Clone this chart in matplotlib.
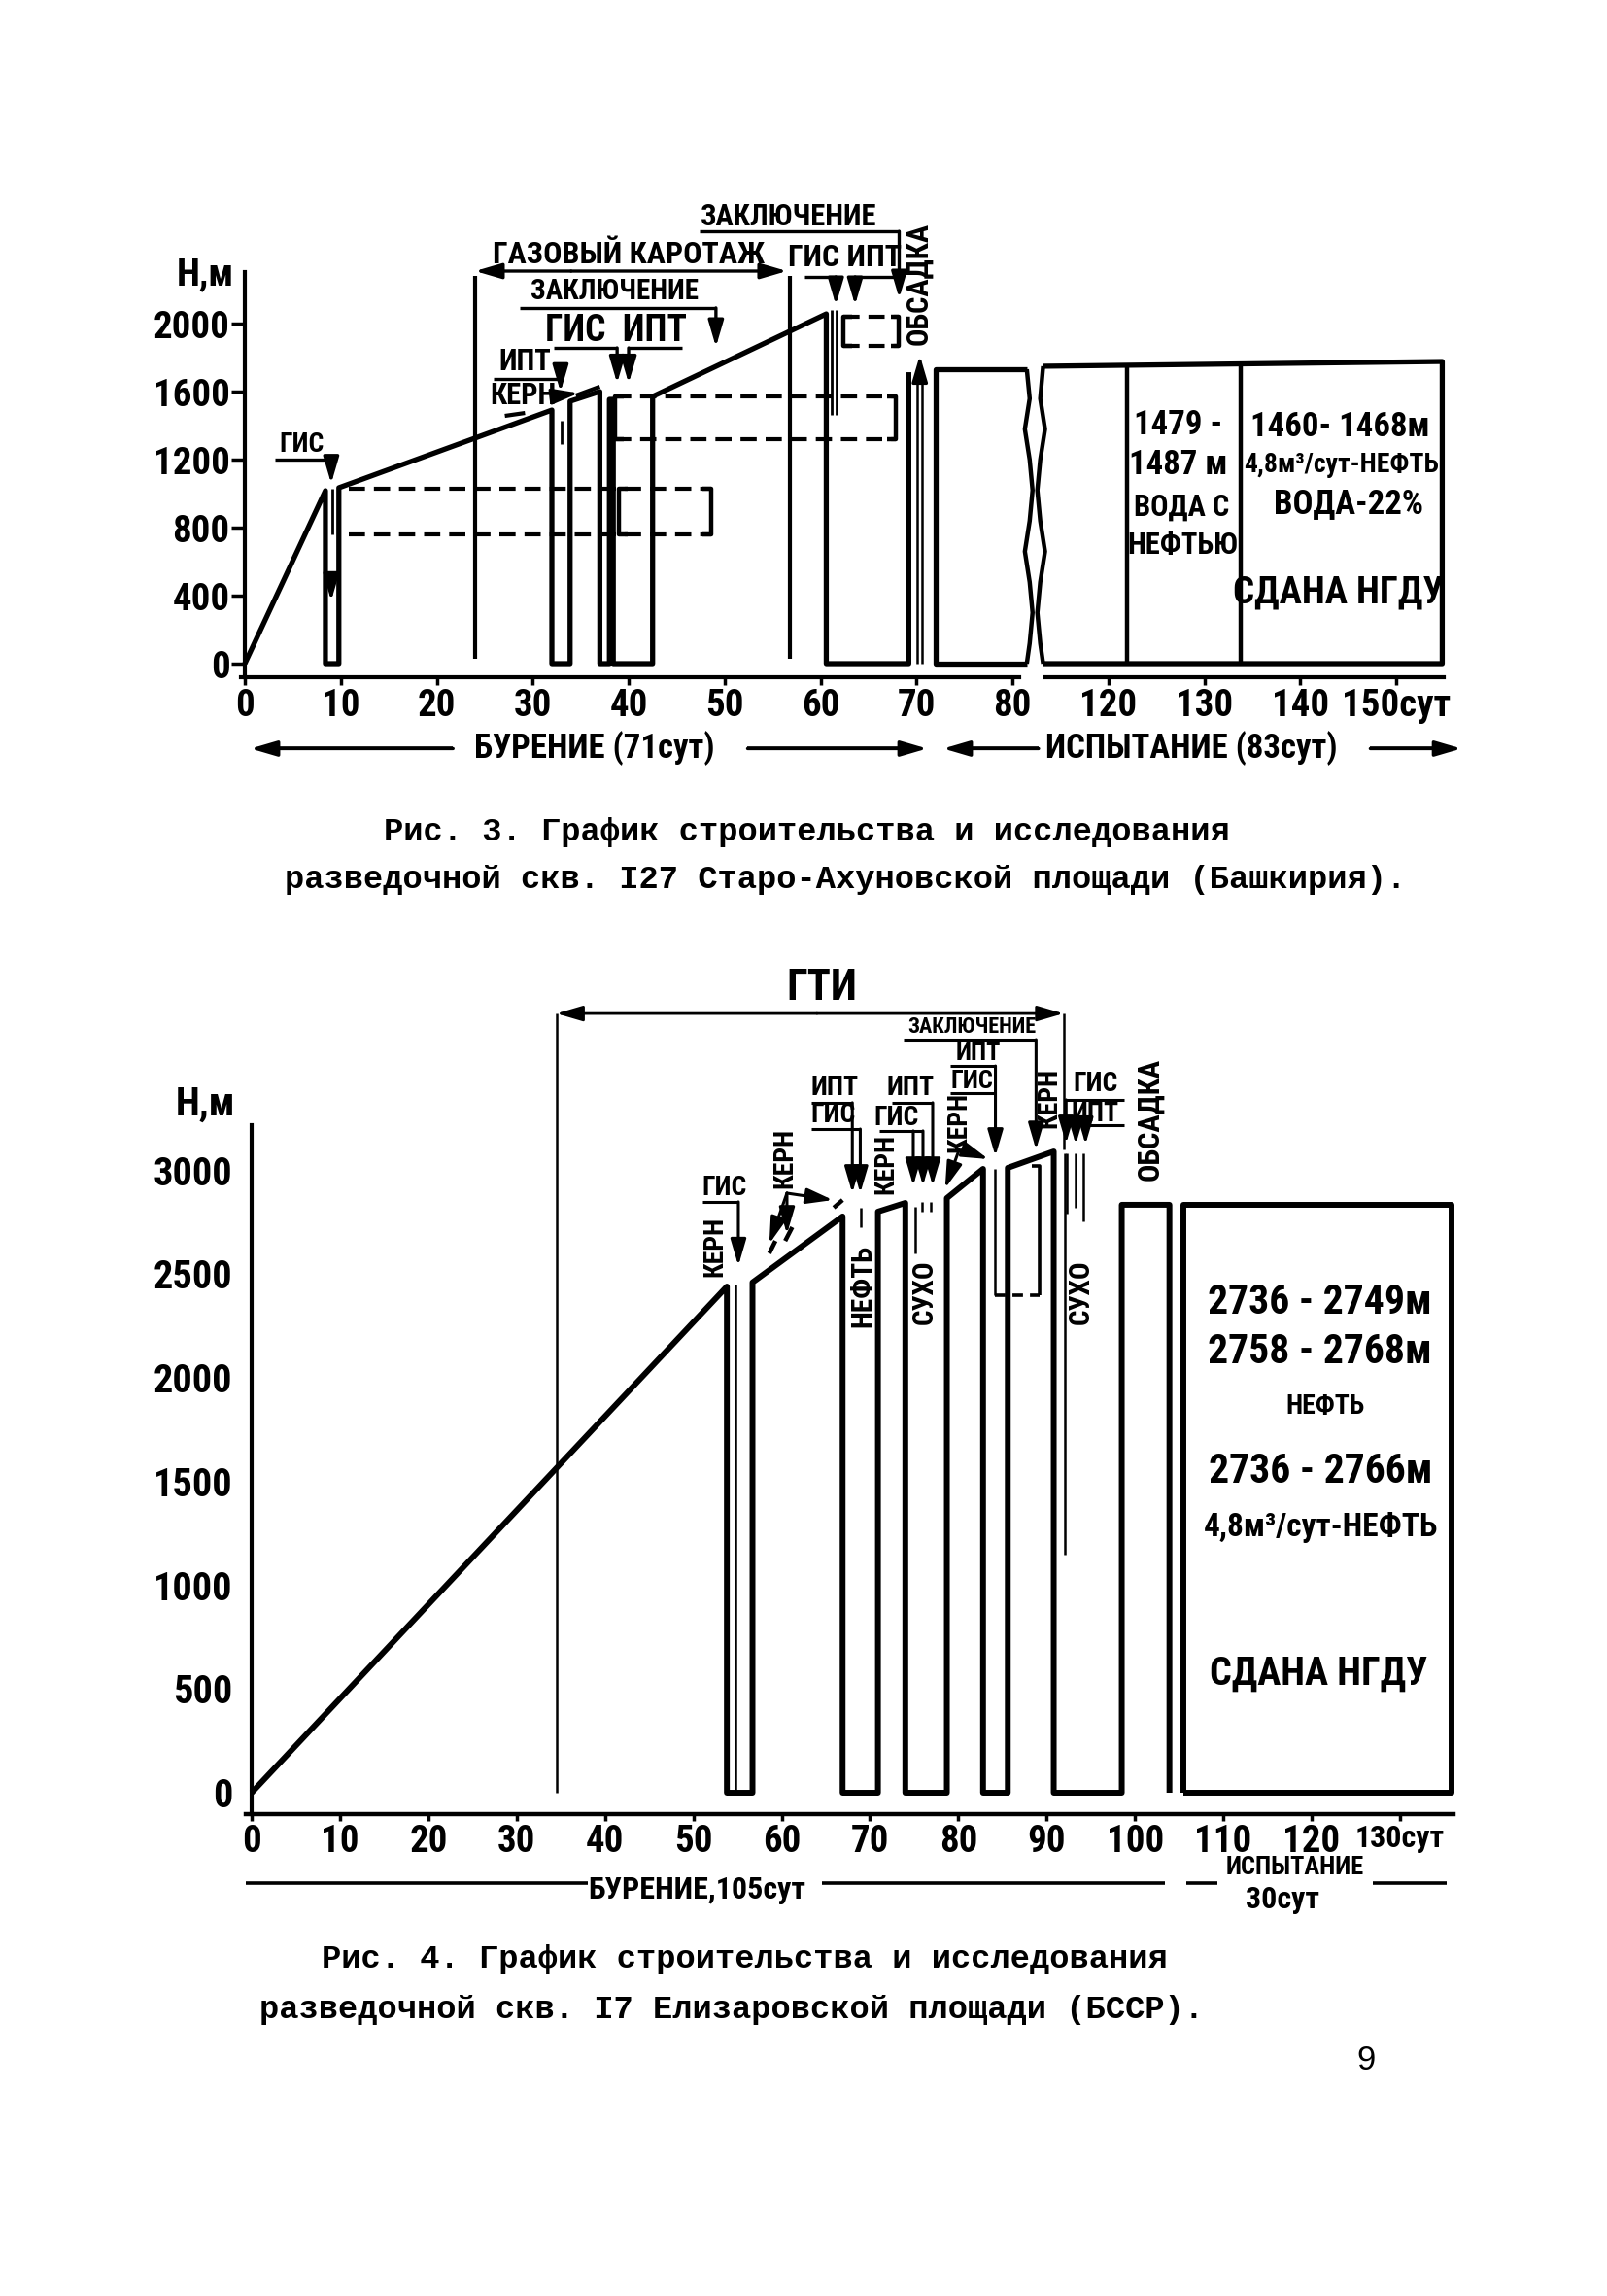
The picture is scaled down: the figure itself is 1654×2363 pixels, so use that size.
import os
import numpy as np
import matplotlib
matplotlib.use('Agg')
import matplotlib.pyplot as plt
from matplotlib import font_manager as fm
from matplotlib.font_manager import FontProperties

# ---------------- Рис. 3 ----------------
x3_ticks = [0, 10, 20, 30, 40, 50, 60, 70, 80, 120, 130, 140, 150]
x3_labels = ['0', '10', '20', '30', '40', '50', '60', '70', '80', '120', '130', '140', '150сут']
y3_ticks = [0, 400, 800, 1200, 1600, 2000]
y3_labels = ['0', '400', '800', '1200', '1600', '2000']

# бурение и спуско-подъёмы (сут, м)
well3_t = [0, 8.4, 8.4, 9.8, 9.8, 32.0, 32.0, 33.9, 33.9, 37.0, 37.0, 38.0, 38.0,
           38.4, 38.4, 42.5, 42.5, 60.6, 60.6, 69.2, 69.2]
well3_h = [0, 1018, 0, 0, 1035, 1492, 0, 0, 1544, 1601, 0, 0, 1555,
           1555, 0, 0, 1572, 2058, 0, 0, 1715]

casing3_t = [70.1, 70.6]
casing3_top = 1720

# испытание
testA3 = [72.0, 86.0, 1732]             # left, right(wavy), top
testB3 = [92.8, 154.8, 1750, 1778]      # left(wavy), right, top-left, top-right
testB3_div = [121.9, 133.8]
wave3_h = [0, 120, 300, 480, 660, 840, 1020, 1200, 1380, 1560, 1732]
wave3_dx = [0, 1.2, 2.4, 1.2, -0.8, 1.2, 2.4, 1.2, -0.8, 1.2, 0]

gas3_t = [24.0, 56.8]
gas3_level = 2310

# интервалы (пунктир) и скобки
dash3_hi = [1030, 1572, 2040]
dash3_lo = [760, 1321, 1870]
dash3_from = [10.8, 38.6, 62.4]
dash3_to = [48.6, 67.8, 68.2]
dash3_left = [39.0, 38.6, 62.4]

notes3 = [
    ('ГИС', 5.9, 1292, 20, 0),
    ('ИПТ', 29.2, 1778, 22, 0),
    ('КЕРН', 29.0, 1578, 22, 0),
    ('ЗАКЛЮЧЕНИЕ', 38.5, 2190, 21, 0),
    ('ГИС  ИПТ', 38.7, 1961, 27, 0),
    ('ГАЗОВЫЙ КАРОТАЖ', 40.0, 2407, 23, 0),
    ('ЗАКЛЮЧЕНИЕ', 56.7, 2630, 22, 0),
    ('ГИС ИПТ', 62.5, 2390, 23, 0),
    ('ОБСАДКА', 70.2, 2236, 22, 90),
    ('1479 -', 127.3, 1401, 25, 0),
    ('1487 м', 127.3, 1172, 25, 0),
    ('ВОДА С', 127.6, 921, 22, 0),
    ('НЕФТЬЮ', 127.8, 698, 22, 0),
    ('1460- 1468м', 144.2, 1395, 25, 0),
    ('4,8м³/сут-НЕФТЬ', 144.3, 1172, 20, 0),
    ('ВОДА-22%', 145.0, 943, 25, 0),
    ('СДАНА НГДУ', 144.0, 417, 28, 0),
]

arrows3_t = [[3.1, 9.0, 9.0], [25.9, 32.9, 32.9], [32.4, 34.8], [28.7, 49.1, 49.1],
             [32.2, 38.8, 38.8], [45.6, 40.0, 40.0], [47.4, 68.2, 68.2],
             [58.3, 61.6, 61.6], [67.9, 63.6, 63.6], [70.35, 70.35], [9.0, 9.0]]
arrows3_h = [[1201, 1201, 1060], [1675, 1675, 1600], [1575, 1592], [2093, 2093, 1864],
             [1858, 1858, 1650], [1858, 1858, 1650], [2544, 2544, 2150],
             [2276, 2276, 2110], [2276, 2276, 2110], [1700, 1815], [470, 370]]

thin3_t = [[9.1, 9.1], [61.2, 61.2], [61.7, 61.7], [33.0, 33.0]]
thin3_h = [[1030, 760], [2080, 1464], [2080, 1464], [1430, 1290]]
core3_t = [[27.1, 29.2], [34.5, 37.0]]
core3_h = [[1458, 1475], [1578, 1630]]

# нижняя строка
bur3 = [0.6, 21.7, 52.4, 71.1]
isp3 = [72.8, 90.9, 147.3, 156.8]

# ---------------- Рис. 4 ----------------
x4_ticks = list(range(0, 131, 10))
x4_labels = ['0', '10', '20', '30', '40', '50', '60', '70', '80', '90', '100', '110', '120', '130сут']
y4_ticks = [0, 500, 1000, 1500, 2000, 2500, 3000]
y4_labels = ['0', '500', '1000', '1500', '2000', '2500', '3000']

well4_t = [0, 53.8, 53.8, 56.7, 56.7, 66.9, 66.9, 70.9, 70.9, 74.0, 74.0, 78.7, 78.7,
           82.8, 82.8, 85.6, 85.6, 90.8, 90.8, 98.5, 98.5, 103.9, 103.9]
well4_h = [0, 2440, 0, 0, 2460, 2778, 0, 0, 2801, 2843, 0, 0, 2866,
           3007, 0, 0, 3012, 3091, 0, 0, 2834, 2834, 0]
test4 = [105.5, 135.8, 2834]

gti4 = [34.5, 91.9]
gti4_level = 3756

notes4 = [
    ('ГТИ', 64.5, 3878, 32, 0),
    ('ГИС', 53.5, 2918, 20, 0),
    ('КЕРН', 52.4, 2632, 20, 90),
    ('КЕРН', 60.4, 3059, 20, 90),
    ('ИПТ', 66.0, 3400, 20, 0),
    ('ГИС', 65.8, 3269, 20, 0),
    ('ИПТ', 74.6, 3400, 20, 0),
    ('ГИС', 73.0, 3255, 20, 0),
    ('КЕРН', 71.8, 3030, 20, 90),
    ('КЕРН', 80.1, 3232, 20, 90),
    ('ЗАКЛЮЧЕНИЕ', 81.5, 3691, 16, 0),
    ('ИПТ', 82.3, 3564, 19, 0),
    ('ГИС', 81.6, 3429, 19, 0),
    ('КЕРН', 90.3, 3349, 20, 90),
    ('ГИС', 95.5, 3419, 20, 0),
    ('ИПТ', 95.5, 3274, 20, 0),
    ('ОБСАДКА', 101.7, 3246, 22, 90),
    ('НЕФТЬ', 69.2, 2445, 21, 90),
    ('СУХО', 76.2, 2412, 21, 90),
    ('СУХО', 93.9, 2412, 21, 90),
    ('2736 - 2749м', 120.9, 2365, 30, 0),
    ('2758 - 2768м', 120.9, 2126, 30, 0),
    ('НЕФТЬ', 121.5, 1864, 20, 0),
    ('2736 - 2766м', 121.0, 1546, 30, 0),
    ('4,8м³/сут-НЕФТЬ', 121.0, 1279, 24, 0),
    ('СДАНА НГДУ', 120.8, 571, 29, 0),
]

arrows4_t = [[51.0, 55.1, 55.1], [60.6, 58.6], [60.6, 60.6], [60.6, 65.8],
             [63.4, 68.0, 68.0], [63.4, 68.9, 68.9],
             [72.5, 77.1, 77.1], [71.0, 76.0, 76.0], [74.9, 74.9],
             [80.1, 78.5], [80.6, 83.4], [73.8, 88.8, 88.8],
             [79.1, 84.2, 84.2], [98.8, 92.2, 92.2], [93.3, 93.3], [94.4, 94.4]]
arrows4_h = [[2848, 2848, 2540], [2890, 2646], [2890, 2693], [2890, 2857],
             [3326, 3326, 2890], [3199, 3199, 2890],
             [3326, 3326, 2927], [3190, 3190, 2927], [3190, 2927],
             [3100, 2913], [3100, 3054], [3630, 3630, 3100],
             [3503, 3503, 3068], [3340, 3340, 3129], [3218, 3125], [3218, 3125]]
under4_t = [[79.1, 84.2], [92.2, 98.8]]
under4_h = [[3372, 3372], [3218, 3218]]

thin4_t = [[54.8, 54.8], [92.1, 92.1], [69.0, 69.0], [75.1, 75.1], [84.1, 84.1],
           [92.3, 92.3], [93.3, 93.3], [94.1, 94.1], [75.9, 75.9], [76.9, 76.9]]
thin4_h = [[2450, 0], [3080, 1148], [2820, 2726], [2824, 2600], [3007, 2398],
           [3082, 2790], [3082, 2820], [3082, 2754], [2848, 2800], [2848, 2800]]
core4_t = [[58.6, 59.3], [60.4, 61.2], [65.9, 66.9]]
core4_h = [[2600, 2660], [2660, 2726], [2820, 2857]]
bracket4 = [84.1, 89.2, 3021, 2398]

row4_segs = [(-0.66, 38.1), (64.6, 103.4), (105.8, 109.3), (126.9, 135.3)]
row4_level = -436

# ---------------------------------------------------------------
# узкий жирный шрифт (как на чертеже)
def find_font(patterns):
    files = [f.fname for f in fm.fontManager.ttflist]
    for pat in patterns:
        for fn in files:
            if os.path.basename(fn).lower().startswith(pat):
                return fn
    return None

NARROW = find_font(['liberationsansnarrow-bold.', 'notosans-condensedbold',
                    'robotocondensed-bold', 'roboto_condensed-bold',
                    'opensans_condensed-bold', 'opensanscondensed-bold',
                    'dejavusanscondensed-bold'])


def nfp(size):
    if NARROW:
        return FontProperties(fname=NARROW, size=size)
    return FontProperties(family='DejaVu Sans', weight='bold', stretch='condensed', size=size)


W, H = 1654, 2363
fig = plt.figure(figsize=(W / 100, H / 100), dpi=100)
fig.patch.set_facecolor('white')

MONO = dict(family=['Liberation Mono', 'DejaVu Sans Mono'], weight='bold')


def line(ax, xs, ys, lw=3.8, ls='-'):
    ax.plot(xs, ys, color='k', lw=lw, ls=ls, solid_capstyle='butt',
            solid_joinstyle='round', dash_capstyle='butt', clip_on=False)


def head(ax, x0, y0, x1, y1, lw=2.4, style='-|>'):
    ax.annotate('', xy=(x1, y1), xytext=(x0, y0),
                arrowprops=dict(arrowstyle=style + ',head_length=0.75,head_width=0.22',
                                color='k', lw=lw, shrinkA=0, shrinkB=0, mutation_scale=22),
                annotation_clip=False)


def arrow(ax, xs, ys, lw=2.4):
    if len(xs) > 2:
        line(ax, xs[:-1], ys[:-1], lw=lw)
    head(ax, xs[-2], ys[-2], xs[-1], ys[-1], lw=lw)


def note(ax, txt, x, y, size, rot=0):
    ax.text(x, y, txt, fontproperties=nfp(size), ha='center', va='center', rotation=rot,
            rotation_mode='anchor', clip_on=False)


def style_ticks(ax, xsize, ysize):
    for t in ax.get_xticklabels():
        t.set_fontproperties(nfp(xsize))
    for t in ax.get_yticklabels():
        t.set_fontproperties(nfp(ysize))


def fwd(d):
    d = np.asarray(d, float)
    return np.where(d <= 80, d, np.where(d < 120, 80 + (d - 80) / 4, d - 30))


def inv(u):
    u = np.asarray(u, float)
    return np.where(u <= 80, u, np.where(u < 90, 80 + (u - 80) * 4, u + 30))


# ================= Рис. 3 =================
ax = fig.add_axes([248.05 / W, 1 - 697 / H, (1486.4 - 248.05) / W, (697 - 193.3) / H])
ax.set_xscale('function', functions=(fwd, inv))
ax.set_xlim(-0.4, 155)
ax.set_ylim(-80, 2800)
ax.patch.set_alpha(0)
for s in ['top', 'right', 'bottom']:
    ax.spines[s].set_visible(False)
ax.spines['left'].set_position(('data', 0))
ax.spines['left'].set_bounds(-80, 2304)
ax.spines['left'].set_linewidth(3)
ax.set_xticks(x3_ticks)
ax.set_xticklabels(x3_labels)
ax.set_yticks(y3_ticks)
ax.set_yticklabels(y3_labels)
ax.tick_params(axis='y', direction='out', length=10, width=2.5, pad=1)
ax.tick_params(axis='x', direction='out', length=6, width=2.5, pad=2)
style_ticks(ax, 28, 28)

# ось X с разрывом
tx = ax.get_xaxis_transform()
ax.plot([-0.4, 82.8], [0, 0], color='k', lw=3, transform=tx, clip_on=False)
ax.plot([93.6, 155], [0, 0], color='k', lw=3, transform=tx, clip_on=False)

line(ax, well3_t, well3_h)
for c in casing3_t:
    line(ax, [c, c], [0, casing3_top], lw=1.8)

# испытание: прямоугольники с волнистым разрывом
aL, aR, aT = testA3
line(ax, [aR + wave3_dx[0], aL, aL, aR], [0, 0, aT, aT])
line(ax, [aR + dx for dx in wave3_dx], wave3_h, lw=3.2)
bL, bR, bTL, bTR = testB3
line(ax, [bL, bR, bR, bL], [bTL, bTR, 0, 0])
line(ax, [bL - dx for dx in wave3_dx[:-1]] + [bL], wave3_h[:-1] + [bTL], lw=3.2)
for dv in testB3_div:
    line(ax, [dv, dv], [0, bTL + (bTR - bTL) * (dv - bL) / (bR - bL)], lw=3.2)

# газовый каротаж
for g in gas3_t:
    line(ax, [g, g], [gas3_level - 30, 30], lw=3)
head(ax, gas3_t[0] + 10, gas3_level, gas3_t[0], gas3_level, lw=2.4)
head(ax, gas3_t[0] + 10, gas3_level, gas3_t[1] - 0.3, gas3_level, lw=2.4)

# пунктирные интервалы
for hi, lo, a, b, l in zip(dash3_hi, dash3_lo, dash3_from, dash3_to, dash3_left):
    line(ax, [a, b], [hi, hi], lw=3, ls=(0, (4, 2.2)))
    line(ax, [a, b], [lo, lo], lw=3, ls=(0, (4, 2.2)))
    line(ax, [l + 0.9, l, l, l + 0.9], [hi, hi, lo, lo], lw=3.2)
    line(ax, [b - 0.9, b, b, b - 0.9], [hi, hi, lo, lo], lw=3.2)

for xs, ys in zip(thin3_t, thin3_h):
    line(ax, xs, ys, lw=2)
for xs, ys in zip(core3_t, core3_h):
    line(ax, xs, ys, lw=3)
for xs, ys in zip(arrows3_t, arrows3_h):
    arrow(ax, xs, ys)

for txt, x, y, s, r in notes3:
    note(ax, txt, x, y, s, r)
note(ax, 'Н,м', -4.1, 2287, 28)

# нижняя строка со стрелками
yb = -500
line(ax, [bur3[0] + 1, bur3[1]], [yb, yb], lw=2.6)
head(ax, bur3[1], yb, bur3[0], yb)
line(ax, [bur3[2], bur3[3] - 1], [yb, yb], lw=2.6)
head(ax, bur3[2], yb, bur3[3], yb)
line(ax, [isp3[0] + 1, isp3[1]], [yb, yb], lw=2.6)
head(ax, isp3[1], yb, isp3[0], yb)
line(ax, [isp3[2], isp3[3] - 1], [yb, yb], lw=2.6)
head(ax, isp3[2], yb, isp3[3], yb)
note(ax, 'БУРЕНИЕ (71сут)', 36.4, yb, 25)
note(ax, 'ИСПЫТАНИЕ (83сут)', 128.7, yb, 25)

# ================= Рис. 4 =================
bx = fig.add_axes([253.0 / W, 1 - 1867 / H, (1495.5 - 253.0) / W, (1867 - 991) / H])
bx.set_xlim(-0.66, 136)
bx.set_ylim(-103, 4000)
bx.patch.set_alpha(0)
for s in ['top', 'right']:
    bx.spines[s].set_visible(False)
bx.spines['left'].set_position(('data', 0))
bx.spines['left'].set_bounds(-103, 3218)
bx.spines['left'].set_linewidth(3)
bx.spines['bottom'].set_linewidth(3.2)
bx.set_xticks(x4_ticks)
bx.set_xticklabels(x4_labels)
bx.set_yticks(y4_ticks)
bx.set_yticklabels(y4_labels)
bx.tick_params(axis='y', length=0, pad=14)
bx.tick_params(axis='x', direction='out', length=5, width=2.5, pad=2)
style_ticks(bx, 28, 29)
bx.get_xticklabels()[-1].set_fontproperties(nfp(23))

line(bx, well4_t, well4_h, lw=4.3)
tL, tR, tT = test4
line(bx, [tL, tL, tR, tR, tL], [0, tT, tT, 0, 0], lw=4.3)

# ГТИ
line(bx, [gti4[0], gti4[0]], [gti4_level, 0], lw=1.8)
line(bx, [gti4[1], gti4[1]], [gti4_level, 3100], lw=1.8)
head(bx, 64.0, gti4_level, gti4[0], gti4_level, lw=2)
head(bx, 64.0, gti4_level, gti4[1], gti4_level, lw=2)

for xs, ys in zip(thin4_t, thin4_h):
    line(bx, xs, ys, lw=1.8)
for xs, ys in zip(core4_t, core4_h):
    line(bx, xs, ys, lw=3.2)
for xs, ys in zip(under4_t, under4_h):
    line(bx, xs, ys, lw=2.2)
for xs, ys in zip(arrows4_t, arrows4_h):
    arrow(bx, xs, ys, lw=2.2)

bl, br, btop, bbot = bracket4
line(bx, [br - 0.9, br, br], [btop, btop, bbot], lw=2.6)
line(bx, [bl, br], [bbot, bbot], lw=2.6, ls=(0, (3, 2)))

for txt, x, y, s, r in notes4:
    note(bx, txt, x, y, s, r)
note(bx, 'Н,м', -5.2, 3316, 29)

for a, b in row4_segs:
    line(bx, [a, b], [row4_level, row4_level], lw=2.6)
note(bx, 'БУРЕНИЕ,105сут', 50.4, -468, 23)
note(bx, 'ИСПЫТАНИЕ', 118.1, -361, 19)
note(bx, '30сут', 116.7, -515, 23)

# ---------------- подписи ----------------
fig.text(830 / W, 1 - 857 / H, 'Рис. 3. График строительства и исследования',
         fontsize=24.3, ha='center', va='center', **MONO)
fig.text(870 / W, 1 - 905 / H, 'разведочной скв. I27 Старо-Ахуновской площади (Башкирия).',
         fontsize=24.3, ha='center', va='center', **MONO)
fig.text(766 / W, 1 - 2017 / H, 'Рис. 4. График строительства и исследования',
         fontsize=24.3, ha='center', va='center', **MONO)
fig.text(753 / W, 1 - 2069 / H, 'разведочной скв. I7 Елизаровской площади (БССР).',
         fontsize=24.3, ha='center', va='center', **MONO)
fig.text(1406 / W, 1 - 2121 / H, '9', fontsize=25, ha='center', va='center',
         family=['Liberation Sans', 'DejaVu Sans'], weight='normal')

fig.savefig('out.png', dpi=100, facecolor='white')
